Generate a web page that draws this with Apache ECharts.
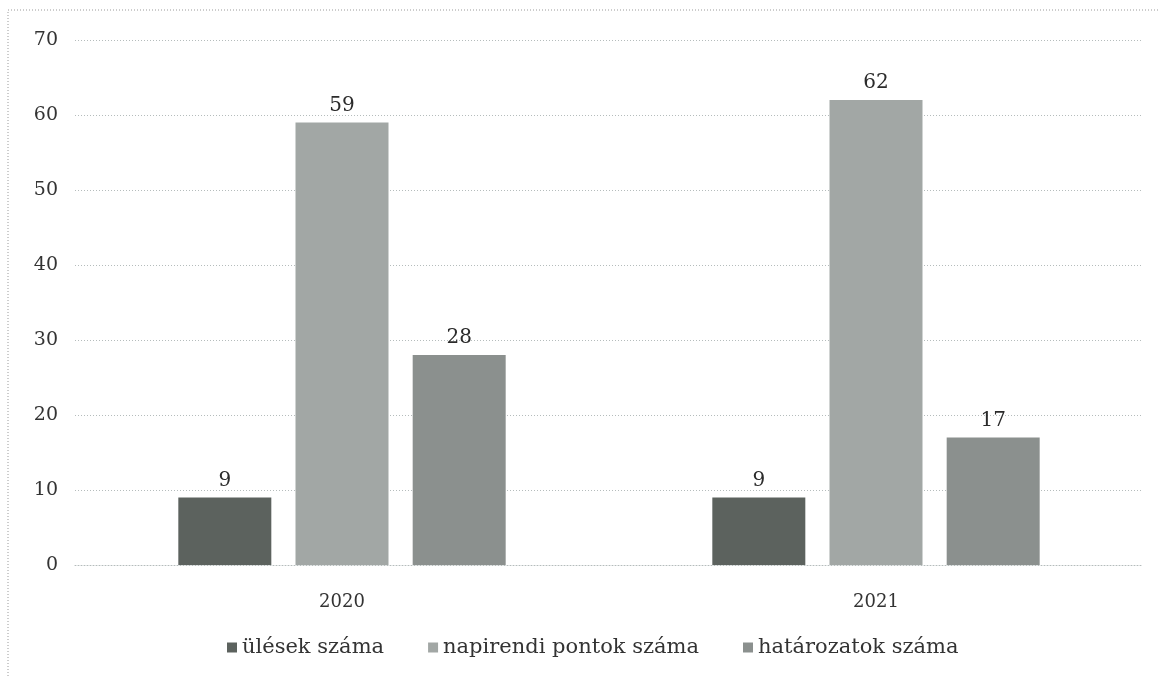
<!DOCTYPE html>
<html><head><meta charset="utf-8">
<script src="https://cdn.jsdelivr.net/npm/echarts@6/dist/echarts.min.js"></script>
<style>html,body{margin:0;padding:0;background:#fff}#c{width:1159px;height:677px}</style>
</head><body><div id="c"></div>
<script>
const categories = ['2020', '2021'];
const seriesNames = ['ülések száma', 'napirendi pontok száma', 'határozatok száma'];
const ulesek = [9, 9];
const napirendi = [59, 62];
const hatarozatok = [28, 17];
const yTicks = [0, 10, 20, 30, 40, 50, 60, 70];
const colors = ['#5c625e', '#a2a7a5', '#8b908e'];

const serif = '"DejaVu Serif", "Liberation Serif", serif';
const chart = echarts.init(document.getElementById('c'));
const mk = (name, data, color) => ({
  name, type: 'bar', data, barWidth: 93, barGap: '26%',
  itemStyle: { color },
  label: { show: true, position: 'top', distance: 7, color: '#2b2b2b', fontFamily: serif, fontSize: 20 }
});
chart.setOption({
  animation: false,
  graphic: [{ type: 'rect', shape: { x: 8, y: 10, width: 1200, height: 720 },
    style: { fill: 'none', stroke: '#9a9a9a', lineWidth: 1, lineDash: [1, 2] } }],
  grid: { left: 75, right: 16, top: 40, bottom: 112 },
  legend: {
    bottom: 14, left: 222, itemWidth: 10, itemHeight: 10, itemGap: 44,
    icon: 'rect',
    textStyle: { fontFamily: serif, fontSize: 21, color: '#333' },
    data: seriesNames
  },
  xAxis: {
    type: 'category', data: categories,
    axisLine: { show: true, lineStyle: { color: '#b5bcbc', type: [1, 2] } },
    axisTick: { show: false },
    axisLabel: { margin: 28, fontFamily: serif, fontSize: 18, color: '#333' }
  },
  yAxis: {
    type: 'value', min: 0, max: 70, interval: 10,
    axisLine: { show: false }, axisTick: { show: false },
    axisLabel: { margin: 17, fontFamily: serif, fontSize: 19, color: '#333',
      formatter: v => yTicks.includes(v) ? String(v) : '' },
    splitLine: { lineStyle: { color: '#b5bcbc', type: [1, 2] } }
  },
  series: [
    mk(seriesNames[0], ulesek, colors[0]),
    mk(seriesNames[1], napirendi, colors[1]),
    mk(seriesNames[2], hatarozatok, colors[2])
  ]
});
</script></body></html>
